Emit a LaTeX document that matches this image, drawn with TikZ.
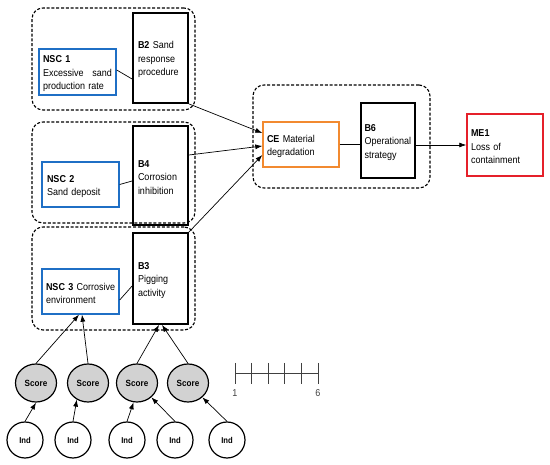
\documentclass[tikz,border=0pt]{standalone}
\usepackage{fontspec}
\setmainfont{Liberation Sans}[FakeStretch=0.9]
\usetikzlibrary{arrows.meta,shapes.geometric,calc}
\definecolor{nscblue}{HTML}{1F6FC5}
\definecolor{ceorange}{HTML}{F28A30}
\definecolor{mered}{HTML}{E5202A}
\definecolor{scalegray}{HTML}{404040}
\newcommand\mainfs{\fontsize{10}{13.5}\selectfont}
\newcommand\toplift{\rule{0pt}{11pt}}
\tikzset{
  grp/.style={draw, dash pattern=on 3pt off 1.8pt, line width=1.1pt, rounded corners=11pt, inner sep=0pt},
  txt/.style={inner ysep=0pt, align=left, font=\mainfs, execute at begin node=\toplift},
  bbox/.style={txt, draw, line width=1.8pt, inner xsep=5pt},
  nsc/.style={txt, draw=nscblue, line width=1.4pt, inner xsep=4pt},
  cebox/.style={txt, draw=ceorange, line width=1.4pt, inner xsep=4pt},
  mebox/.style={txt, draw=mered, line width=1.4pt, inner xsep=4pt},
  score/.style={ellipse, draw, fill=gray!35, line width=1.2pt, minimum width=41pt, minimum height=38pt, inner sep=0pt, font=\fontsize{9}{10}\selectfont\bfseries},
  ind/.style={circle, draw, line width=1.2pt, minimum size=36pt, inner sep=0pt, font=\fontsize{8.5}{10}\selectfont\bfseries},
  conn/.style={line width=0.7pt},
  arr/.style={conn, -{Latex[length=7pt,width=5pt]}},
  scaleline/.style={draw=scalegray, line width=1pt},
  scalelbl/.style={text=scalegray, font=\fontsize{10}{12}\selectfont, inner sep=0pt}
}
\begin{document}
\begin{tikzpicture}[x=1pt,y=-1pt]
\useasboundingbox (0,0) rectangle (550,465);
% groups
\node[grp, minimum width=163pt, minimum height=102pt] (G1) at (113.5,59) {};
\node[grp, minimum width=163pt, minimum height=101pt] (G2) at (113.5,172.5) {};
\node[grp, minimum width=163pt, minimum height=103pt] (G3) at (113.5,278.5) {};
\node[grp, minimum width=177pt, minimum height=103pt] (GCE) at (341.5,136.5) {};
% barrier boxes
\node[bbox, minimum width=55pt, minimum height=90pt, text width=45pt] (B2) at (160.5,58) {\textbf{B2} Sand\\response\\procedure};
\node[bbox, minimum width=55pt, minimum height=99pt, text width=45pt] (B4) at (160.5,175.5) {\textbf{B4}\\Corrosion\\inhibition};
\node[bbox, minimum width=55pt, minimum height=91pt, text width=45pt] (B3) at (160.5,278.5) {\textbf{B3}\\Pigging\\activity};
\node[bbox, inner xsep=3.5pt, minimum width=54pt, minimum height=75pt, text width=47pt] (B6) at (388,140.5) {\textbf{B6}\\Operational\\strategy};
% NSC boxes
\node[nsc, minimum width=77pt, minimum height=46pt, text width=69pt] (NSC1) at (77.5,72) {\textbf{NSC 1}\\Excessive\hfill sand\\production rate};
\node[nsc, inner xsep=5pt, minimum width=77pt, minimum height=45pt, text width=67pt] (NSC2) at (80.5,184.5) {\textbf{NSC 2}\\Sand deposit};
\node[nsc, minimum width=77pt, minimum height=45pt, text width=69pt] (NSC3) at (80.5,291.5) {\mbox{\textbf{NSC 3} Corrosive}\\environment};
% CE and ME
\node[cebox, minimum width=76pt, minimum height=45pt, text width=68pt] (CE) at (301,144.5) {\textbf{CE} Material\\degradation};
\node[mebox, minimum width=76pt, minimum height=62pt, text width=68pt] (ME1) at (505,145) {\textbf{ME1}\\Loss of\\containment};
% scores and indicators
\node[score] (S1) at (36,383) {Score};
\node[score] (S2) at (88,383) {Score};
\node[score] (S3) at (137,383) {Score};
\node[score] (S4) at (188,383) {Score};
\node[ind] (I1) at (25,440) {Ind};
\node[ind] (I2) at (73,440) {Ind};
\node[ind] (I3) at (127,440) {Ind};
\node[ind] (I4) at (175,440) {Ind};
\node[ind] (I5) at (227,440) {Ind};
% connectors
\draw[conn] ($(NSC1.east)+(0,-2)$) -- ($(B2.west)+(0,21)$);
\draw[conn] (NSC2.east) -- ($(B4.west)+(0,5.5)$);
\draw[conn] ($(NSC3.east)+(0,8.5)$) -- ($(B3.west)+(0,7.5)$);
\draw[conn] (CE.east) -- (CE.east -| B6.west);
\draw[arr] (B6.east |- ME1.west) -- (ME1.west);
\draw[arr] (B2.south east) -- ($(CE.west)+(0,-11.5)$);
\draw[arr] ($(B4.east)+(0,-20.5)$) -- ($(CE.west)+(0,1.5)$);
\draw[arr] (B3.north east) -- ($(CE.west)+(0,10.5)$);
\draw[arr] (S1.north) -- ($(NSC3.south)+(-1.5,0)$);
\draw[arr] (S2.north) -- ($(NSC3.south)+(1.5,0)$);
\draw[arr] (S3.north) -- ($(B3.south)+(-1.5,0)$);
\draw[arr] (S4.north) -- ($(B3.south)+(1.5,0)$);
\draw[arr] (I1.north) -- (S1.south);
\draw[arr] (I2.north) -- (S2.-124);
\draw[arr] (I3.north) -- (S3.-100);
\draw[arr] (I4.north) -- (S3.-45);
\draw[arr] (I5.north) -- (S4.-45);
% scale
\draw[scaleline] (235,374) -- (318,374);
\foreach \i in {0,...,5} \draw[scaleline] ({235+\i*16.6},363) -- ++(0,21);
\node[scalelbl] (L1) at (235,393) {1};
\node[scalelbl] (L6) at (318,393) {6};
\end{tikzpicture}
\end{document}
